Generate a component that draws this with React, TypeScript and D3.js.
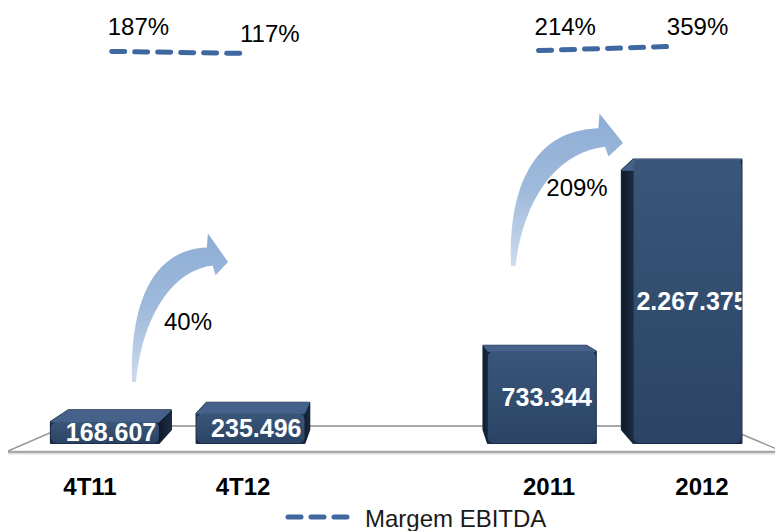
import React from "react";
import * as d3 from "d3";

const categories = ["4T11", "4T12", "2011", "2012"];
const slotIndex = [0, 1, 3, 4];
const ebitda = [168607, 235496, 733344, 2267375];
const ebitdaLabels = ["168.607", "235.496", "733.344", "2.267.375"];
const marginGroups = [
  { from: 0, to: 1, values: [187, 117], labels: ["187%", "117%"] },
  { from: 2, to: 3, values: [214, 359], labels: ["214%", "359%"] },
];
const growthLabels = ["40%", "209%"];
const legendLabel = "Margem EBITDA";

const W = 775;
const H = 531;
const VP = [400, 285];
const FONT = "'Liberation Sans', Arial, Helvetica, sans-serif";

const x = d3.scalePoint<number>().domain([0, 1, 2, 3, 4]).range([90, 702]);
const y = d3.scaleLinear().domain([0, 2400000]).range([443, 143]);
const yM = d3.scaleLinear().domain([100, 400]).range([54, 45]);

const persp = (xc: number, k: number, c = VP[0]) => xc + (c - xc) * k;
const back = (p: [number, number]): [number, number] => [
  p[0] + (VP[0] - p[0]) * 0.05,
  p[1] + (VP[1] - p[1]) * 0.085,
];

// decorative growth arrows (annotation shapes)
const arrows = [
  { tail: [132, 382], tip: [228, 262], lab: [188, 330] },
  { tail: [511, 266], tip: [623, 143], lab: [577, 196] },
];

function arrowPath(tail: number[], tip: number[]) {
  const dx = tip[0] - tail[0];
  const dy = tail[1] - tip[1];
  const P = (u: number, v: number) => `${tail[0] + u * dx},${tail[1] - v * dy}`;
  return (
    `M${P(0, 0)} C${P(-0.02, 0.55)} ${P(0.14, 1.1)} ${P(0.78, 1.12)} ` +
    `L${P(0.79, 1.24)} L${P(1, 1)} L${P(0.87, 0.89)} L${P(0.84, 0.97)} ` +
    `C${P(0.45, 0.93)} ${P(0.12, 0.6)} ${P(0.04, 0)} Z`
  );
}

export default function App() {
  const y0 = y(0);
  const bw = 108;
  const bars = ebitda.map((v, i) => {
    const xc = x(slotIndex[i])!;
    const fc = persp(xc, 0.048);
    const x0 = fc - bw / 2;
    const x1 = fc + bw / 2;
    const yT = y(v);
    const sideX = fc > VP[0] ? x0 : x1;
    const side = [
      [sideX, yT],
      [sideX, y0],
      back([sideX, y0]),
      back([sideX, yT]),
    ];
    const top = [[x0, yT], [x1, yT], back([x1, yT]), back([x0, yT])];
    const all: [number, number][] = [
      [x0, yT], [x1, yT], [x0, y0], [x1, y0],
      back([x0, yT]), back([x1, yT]), back([x0, y0]), back([x1, y0]),
    ];
    const hull = d3.polygonHull(all)!;
    const lx = persp(xc, 0.0507, 505);
    return { i, xc, fc, x0, x1, yT, side, top, hull, lx };
  });

  const pts = (a: number[][]) => a.map((p) => p.join(",")).join(" ");
  const lineGen = d3.line<number[]>().x((d) => d[0]).y((d) => d[1]);

  return (
    <svg
      width={W}
      height={H}
      style={{ position: "absolute", left: 0, top: 0, background: "#fff" }}
      fontFamily={FONT}
    >
      <defs>
        <linearGradient id="arrowGrad" x1="0" y1="1" x2="0" y2="0">
          <stop offset="0" stopColor="#cddbee" />
          <stop offset="0.5" stopColor="#9fbadb" />
          <stop offset="1" stopColor="#8eadd5" />
        </linearGradient>
        <linearGradient id="frontGrad" x1="0" y1="0" x2="0" y2="1">
          <stop offset="0" stopColor="#3a5678" />
          <stop offset="1" stopColor="#2b4465" />
        </linearGradient>
        <linearGradient id="sideGrad" x1="0" y1="0" x2="1" y2="0">
          <stop offset="0" stopColor="#0f1a28" />
          <stop offset="1" stopColor="#1c2e44" />
        </linearGradient>
        {bars.map((b) => (
          <clipPath id={`clip${b.i}`} key={b.i}>
            <rect x={b.x0} y={b.yT} width={b.x1 - b.x0} height={y0 - b.yT} />
          </clipPath>
        ))}
      </defs>

      {/* floor */}
      <polygon points="66,426 722,426 784,452 8,452" fill="#fff" />
      <line x1={66} y1={426} x2={722} y2={426} stroke="#a9a9a9" strokeWidth={2} />
      <line x1={66} y1={426} x2={8} y2={451} stroke="#9a9a9a" strokeWidth={1.5} />
      <line x1={722} y1={426} x2={784} y2={452} stroke="#9a9a9a" strokeWidth={1.5} />
      <line x1={8} y1={452} x2={775} y2={452} stroke="#a8a8a8" strokeWidth={2.5} />
      <line x1={8} y1={454} x2={775} y2={454} stroke="#d8d8d8" strokeWidth={1} />

      {/* bars */}
      {bars.map((b) => (
        <g key={b.i}>
          <polygon points={pts(b.hull)} fill="#1b2d44" stroke="#1b2d44" strokeWidth={2} strokeLinejoin="round" />
          <polygon points={pts(b.side)} fill="url(#sideGrad)" stroke="#15243a" strokeWidth={1} strokeLinejoin="round" />
          <polygon points={pts(b.top)} fill="#46628a" stroke="#46628a" strokeWidth={1} strokeLinejoin="round" />
          <rect x={b.x0} y={b.yT} width={b.x1 - b.x0} height={y0 - b.yT} rx={6} fill="url(#frontGrad)" />
          <text
            clipPath={`url(#clip${b.i})`}
            x={b.lx}
            y={(b.yT + y0) / 2 + 8.5}
            textAnchor="middle"
            fontSize={25}
            fontWeight="bold"
            fill="#fff"
          >
            {ebitdaLabels[b.i]}
          </text>
        </g>
      ))}

      {/* category labels */}
      {categories.map((c, i) => (
        <text key={c} x={x(slotIndex[i])!} y={495} textAnchor="middle" fontSize={24} fontWeight="bold" fill="#000">
          {c}
        </text>
      ))}

      {/* growth arrows */}
      {arrows.map((a, i) => (
        <g key={i}>
          <path d={arrowPath(a.tail, a.tip)} fill="url(#arrowGrad)" />
          <text x={a.lab[0]} y={a.lab[1]} textAnchor="middle" fontSize={24} fill="#000">
            {growthLabels[i]}
          </text>
        </g>
      ))}

      {/* margin lines */}
      {marginGroups.map((g, gi) => {
        const p0 = [persp(x(slotIndex[g.from])!, 0.07), yM(g.values[0])];
        const p1 = [persp(x(slotIndex[g.to])!, 0.07), yM(g.values[1])];
        const pe = [p1[0] - 6, p1[1]];
        return (
          <g key={gi}>
            <path
              d={lineGen([p0, pe])!}
              stroke="#3f67a0"
              strokeWidth={5}
              strokeDasharray="13 10"
              strokeLinecap="round"
              fill="none"
            />
            <text x={p0[0] - 4} y={p0[1] - 16} fontSize={24} fill="#000">
              {g.labels[0]}
            </text>
            <text x={p1[0] - 14} y={p1[1] - 11} fontSize={24} fill="#000">
              {g.labels[1]}
            </text>
          </g>
        );
      })}

      {/* legend */}
      <line x1={288} y1={517} x2={350} y2={517} stroke="#3f67a0" strokeWidth={5} strokeDasharray="13 10" strokeLinecap="round" />
      <text x={365} y={527} fontSize={24} fill="#1a1a1a">
        {legendLabel}
      </text>
    </svg>
  );
}
